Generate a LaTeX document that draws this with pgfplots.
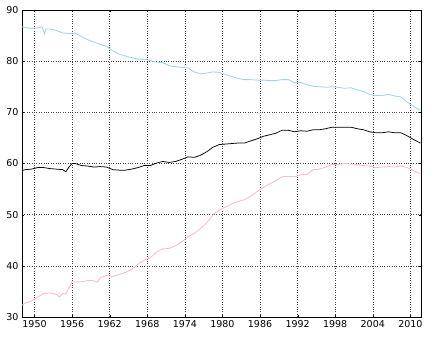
\documentclass[border=0pt]{standalone}
\usepackage{pgfplots}
\pgfplotsset{compat=1.18}
\usepackage{fontspec}
\setmainfont{DejaVu Sans}
\definecolor{menc}{RGB}{165,212,228}
\definecolor{womc}{RGB}{250,188,200}
\begin{document}
\begin{tikzpicture}
\useasboundingbox (-22pt,-23pt) rectangle (415pt,317pt);
\begin{axis}[
  scale only axis, width=399pt, height=307pt,
  xmin=1948, xmax=2011.7, ymin=30, ymax=90,
  xtick={1950,1956,...,2010}, ytick={30,40,...,90},
  xticklabel style={/pgf/number format/1000 sep={}},
  /pgf/number format/assume math mode=true,
  tick label style={font=\fontsize{9.5}{10}\selectfont},
  grid=major, major grid style={black!70, dash pattern=on 0.8pt off 1.6pt, line width=0.4pt},
  axis line style={black, line width=0.8pt},
  tick align=inside, tick style={black},
  major tick length=2pt,
]
\addplot[menc, line width=0.85pt] coordinates {
(1948.0,86.7)(1948.5,86.6)(1949.5,86.4)(1950.5,86.5)(1951.2,86.7)(1951.6,85.3)(1951.8,86.3)(1952.5,86.3)(1953.5,86.0)(1954.5,85.5)(1955.5,85.4)(1956.5,85.5)(1957.5,84.8)(1958.5,84.2)(1959.5,83.7)(1960.5,83.3)(1961.5,82.9)(1962.5,82.0)(1963.5,81.4)(1964.5,81.0)(1965.5,80.7)(1966.5,80.4)(1967.5,80.4)(1968.5,80.1)(1969.5,79.8)(1970.5,79.7)(1971.5,79.1)(1972.5,78.9)(1973.5,78.8)(1974.5,78.7)(1975.5,77.9)(1976.5,77.5)(1977.5,77.7)(1978.5,77.9)(1979.5,77.8)(1980.5,77.4)(1981.5,77.0)(1982.5,76.6)(1983.5,76.4)(1984.5,76.4)(1985.5,76.3)(1986.5,76.3)(1987.5,76.2)(1988.5,76.2)(1989.5,76.4)(1990.5,76.4)(1991.5,75.8)(1992.5,75.8)(1993.5,75.4)(1994.5,75.1)(1995.5,75.0)(1996.5,74.9)(1997.5,75.0)(1998.5,74.9)(1999.5,74.7)(2000.5,74.8)(2001.5,74.4)(2002.5,74.1)(2003.5,73.5)(2004.5,73.3)(2005.5,73.3)(2006.5,73.5)(2007.5,73.2)(2008.5,73.0)(2009.5,72.0)(2010.5,71.2)(2011.6,70.4)
};
\addplot[black, line width=0.75pt] coordinates {
(1948.0,58.6)(1948.5,58.8)(1949.5,58.9)(1950.5,59.2)(1951.5,59.2)(1952.5,59.0)(1953.5,58.9)(1954.5,58.8)(1955.0,58.4)(1955.5,59.3)(1956.0,60.0)(1956.5,60.0)(1957.5,59.6)(1958.5,59.5)(1959.5,59.3)(1960.5,59.4)(1961.5,59.3)(1962.5,58.8)(1963.5,58.7)(1964.5,58.7)(1965.5,58.9)(1966.5,59.2)(1967.5,59.6)(1968.5,59.6)(1969.5,60.1)(1970.5,60.4)(1971.5,60.2)(1972.5,60.4)(1973.5,60.8)(1974.5,61.3)(1975.5,61.2)(1976.5,61.6)(1977.5,62.3)(1978.5,63.2)(1979.5,63.7)(1980.5,63.8)(1981.5,63.9)(1982.5,64.0)(1983.5,64.0)(1984.5,64.4)(1985.5,64.8)(1986.5,65.3)(1987.5,65.6)(1988.5,65.9)(1989.5,66.5)(1990.5,66.5)(1991.5,66.2)(1992.5,66.4)(1993.5,66.3)(1994.5,66.6)(1995.5,66.6)(1996.5,66.8)(1997.5,67.1)(1998.5,67.1)(1999.5,67.1)(2000.5,67.1)(2001.5,66.8)(2002.5,66.6)(2003.5,66.2)(2004.5,66.0)(2005.5,66.0)(2006.5,66.2)(2007.5,66.0)(2008.5,66.0)(2009.5,65.4)(2010.5,64.7)(2011.6,64.0)
};
\addplot[womc, line width=0.85pt] coordinates {
(1948.0,32.3)(1948.5,32.7)(1949.5,33.1)(1950.5,33.9)(1951.5,34.6)(1952.5,34.7)(1953.5,34.4)(1954.0,33.9)(1954.5,34.6)(1955.0,34.5)(1955.5,35.7)(1956.0,36.9)(1956.5,36.9)(1957.5,36.9)(1958.5,37.1)(1959.5,37.1)(1960.0,36.8)(1960.5,37.7)(1961.5,38.1)(1962.5,37.9)(1963.5,38.3)(1964.5,38.7)(1965.5,39.3)(1966.5,40.3)(1967.5,41.1)(1968.5,41.6)(1969.5,42.7)(1970.5,43.3)(1971.5,43.4)(1972.5,43.9)(1973.5,44.7)(1974.5,45.7)(1975.5,46.3)(1976.5,47.3)(1977.5,48.4)(1978.5,50.0)(1979.5,50.9)(1980.5,51.5)(1981.5,52.1)(1982.5,52.6)(1983.5,52.9)(1984.5,53.6)(1985.5,54.5)(1986.5,55.3)(1987.5,56.0)(1988.5,56.6)(1989.5,57.4)(1990.5,57.5)(1991.5,57.4)(1992.5,57.8)(1993.5,57.9)(1994.5,58.8)(1995.5,58.9)(1996.5,59.3)(1997.5,59.8)(1998.5,59.8)(1999.5,60.0)(2000.5,59.9)(2001.5,59.8)(2002.5,59.6)(2003.5,59.5)(2004.5,59.2)(2005.5,59.3)(2006.5,59.4)(2007.5,59.3)(2008.5,59.5)(2009.5,59.2)(2010.5,58.6)(2011.6,58.0)
};
\end{axis}
\end{tikzpicture}
\end{document}
